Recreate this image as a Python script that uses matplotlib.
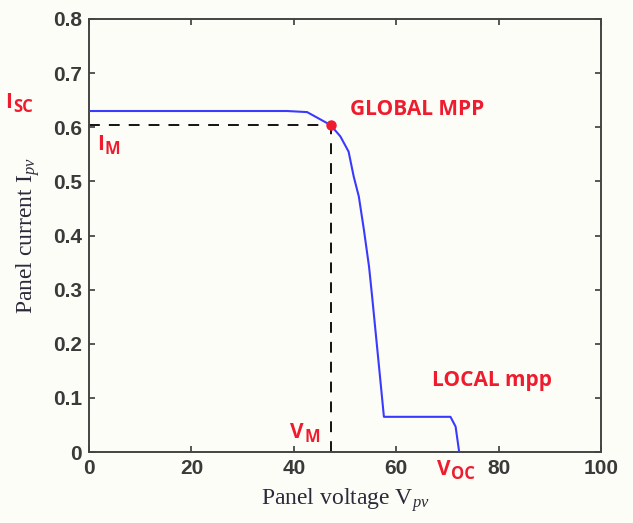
import matplotlib.pyplot as plt

# I-V curve of the panel (voltage in V, current in A)
v_pv = [0.0, 38.7, 42.6, 47.2, 49.1, 50.7, 51.7, 52.7, 53.7, 54.7, 55.3, 56.9, 57.6,
        70.6, 71.6, 72.3]
i_pv = [0.63, 0.63, 0.628, 0.604, 0.583, 0.555, 0.509, 0.472, 0.41, 0.342, 0.287, 0.133,
        0.065, 0.065, 0.047, 0.0]

# global maximum power point
v_m = 47.2
i_m = 0.604

x_ticks = [0, 20, 40, 60, 80, 100]
y_ticks = [0, 0.1, 0.2, 0.3, 0.4, 0.5, 0.6, 0.7, 0.8]

plt.rcParams['mathtext.fontset'] = 'custom'
plt.rcParams['mathtext.rm'] = 'Liberation Serif'
plt.rcParams['mathtext.it'] = 'Liberation Serif:italic'
plt.rcParams['mathtext.bf'] = 'Open Sans:bold'

bg = '#fdfdf7'
red = '#ee1c2e'

fig = plt.figure(figsize=(6.33, 5.23), dpi=100, facecolor=bg)
ax = fig.add_axes([89 / 633, 71 / 523, 512 / 633, 433 / 523])
ax.set_facecolor(bg)

ax.plot(v_pv, i_pv, color='#3a3aff', lw=1.5, zorder=3)

# dashed guides to the MPP
ax.plot([0, v_m], [i_m, i_m], color='black', ls=(0, (6, 5)), lw=1.3, zorder=2)
ax.plot([v_m, v_m], [0, i_m], color='black', ls=(0, (6, 5)), lw=1.3, zorder=2)
ax.plot([v_m], [i_m], 'o', color=red, ms=6.5, zorder=4)

ax.set_xlim(0, 100)
ax.set_ylim(0, 0.8)
ax.set_xticks(x_ticks)
ax.set_yticks(y_ticks)
ax.set_xticklabels([str(t) for t in x_ticks])
ax.set_yticklabels(['0'] + ['%.1f' % t for t in y_ticks[1:]])
ax.tick_params(direction='in', length=4, width=1.2, top=True, right=True,
               labelsize=15, colors='#3a3a3a', pad=5)
for lbl in ax.get_xticklabels() + ax.get_yticklabels():
    lbl.set_fontfamily('Liberation Sans')
    lbl.set_fontweight('bold')
for s in ax.spines.values():
    s.set_linewidth(1.4)
    s.set_color('#444444')

ax.set_xlabel('Panel voltage V$_{pv}$', fontsize=17, family='Liberation Serif',
              color='#2a2a3a', labelpad=6)
ax.set_ylabel('Panel current I$_{pv}$', fontsize=17, family='Liberation Serif',
              color='#2a2a3a', labelpad=8)

# red annotations
lab = dict(color=red, fontsize=15, family='Open Sans', fontweight='bold')
sub = dict(color=red, fontsize=12, family='Open Sans', fontweight='bold')
ax.text(51, 0.632, 'GLOBAL MPP', ha='left', va='center', **lab)
ax.text(67, 0.133, 'LOCAL mpp', ha='left', va='center', **lab)


def label_with_sub(x, y, main, low, dx):
    ax.text(x, y, main, ha='left', va='center', **lab)
    ax.text(x + dx, y - 0.008, low, ha='left', va='center', **sub)


label_with_sub(-16.3, 0.645, 'I', 'SC', 1.6)
label_with_sub(1.5, 0.568, 'I', 'M', 1.6)
label_with_sub(39.3, 0.036, 'V', 'M', 2.8)
label_with_sub(68.0, -0.032, 'V', 'OC', 2.8)

fig.savefig('out.png', dpi=100, facecolor=bg)
